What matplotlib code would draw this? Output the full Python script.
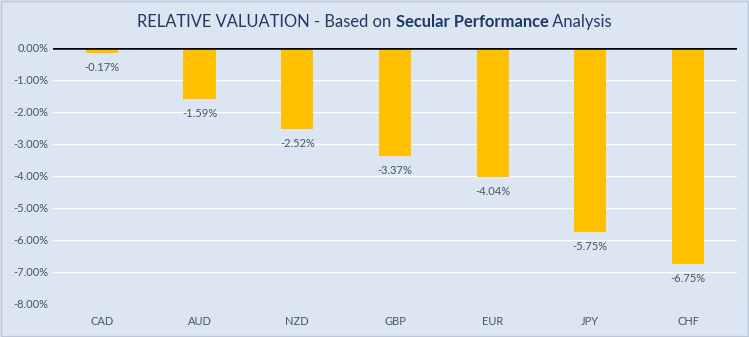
import matplotlib.pyplot as plt
from matplotlib.ticker import FuncFormatter, MultipleLocator

plt.rcParams['font.family'] = ['Lato', 'DejaVu Sans']

monedas = ['CAD', 'AUD', 'NZD', 'GBP', 'EUR', 'JPY', 'CHF']
valores = [-0.17, -1.59, -2.52, -3.37, -4.04, -5.75, -6.75]

fondo = '#dce6f2'
texto = '#44546a'

fig = plt.figure(figsize=(7.49, 3.37), dpi=100, facecolor=fondo)
ax = fig.add_axes([0.0708, 0.098, 0.913, 0.760])
ax.set_facecolor(fondo)

x = range(len(monedas))
barras = ax.bar(x, valores, width=0.33, color='#ffc000', zorder=3)

ax.set_ylim(-8, 0)
ax.set_xlim(-0.5, len(monedas) - 0.5)
ax.yaxis.set_major_locator(MultipleLocator(1))
ax.yaxis.set_major_formatter(FuncFormatter(lambda v, p: f'{v:.2f}%'))
ax.grid(axis='y', color='white', linewidth=1, zorder=0)
ax.axhline(0, color='black', linewidth=1.8, zorder=4)
for s in ax.spines.values():
    s.set_visible(False)
ax.tick_params(length=0, labelsize=8, labelcolor=texto)
ax.tick_params(axis='x', pad=9)
ax.set_xticks(list(x))
ax.set_xticklabels(monedas)

for b, v in zip(barras, valores):
    ax.annotate(f'{v:.2f}%', (b.get_x() + b.get_width() / 2, v),
                xytext=(0, -6.5), textcoords='offset points',
                ha='center', va='top', fontsize=8, color=texto)

# titulo con parte en negrita
partes = [('RELATIVE VALUATION - Based on ', 'normal'),
          ('Secular Performance', 'bold'),
          (' Analysis', 'normal')]
fig.canvas.draw()
r = fig.canvas.get_renderer()
objs = []
total = 0
for t, w in partes:
    o = fig.text(0, 0.935, t, fontsize=11.9, fontweight=w, color='#1f3864', va='center')
    ancho = o.get_window_extent(r).width
    objs.append((o, ancho))
    total += ancho
xpx = fig.bbox.width / 2 - total / 2
for o, ancho in objs:
    o.set_x(xpx / fig.bbox.width)
    xpx += ancho

# borde
fig.patches.append(plt.Rectangle((0.001, 0.002), 0.997, 0.995, transform=fig.transFigure,
                                 fill=False, edgecolor='#b9c7d8', linewidth=1))

fig.savefig('out.png', dpi=100, facecolor=fondo)
